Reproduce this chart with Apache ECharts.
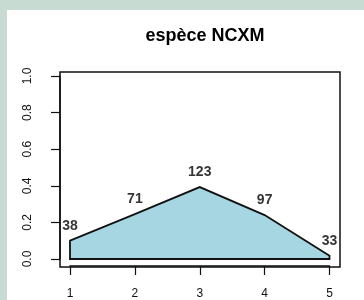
<!DOCTYPE html>
<html>
<head>
<meta charset="utf-8">
<script src="https://cdn.jsdelivr.net/npm/echarts@6/dist/echarts.min.js"></script>
<style>
  html, body { margin: 0; padding: 0; background: #fff; overflow: hidden; }
  #frame { position: absolute; left: 0; top: 0; width: 364px; height: 300px; box-sizing: border-box;
           border-left: 7px solid #c7dbd3; border-top: 10px solid #c7dbd3; background: #fff; }
  #main { position: absolute; left: 0; top: 0; width: 364px; height: 300px; }
</style>
</head>
<body>
<div id="frame"></div>
<div id="main"></div>
<script>
// données de l'espèce
const positions = [1, 2, 3, 4, 5];
const proportions = [0.10, 0.245, 0.393, 0.24, 0.018];
const effectifs = [38, 71, 123, 97, 33];
const yTicks = [0, 0.2, 0.4, 0.6, 0.8, 1.0];

const myChart = echarts.init(document.getElementById('main'));

const pts = positions.map((x, i) => [x, proportions[i], effectifs[i]]);

myChart.setOption({
    animation: false,
    title: {
        text: 'espèce NCXM',
        left: 200,
        top: 22,
        textAlign: 'center',
        textStyle: { fontFamily: 'Liberation Sans', fontWeight: 'bold', fontSize: 18, color: '#000' }
    },
    grid: [
        // zone des données (1..5, 0..1)
        { left: 70, right: 34.5, top: 76, bottom: 40 },
        // cadre R
        { left: 60, right: 24, top: 72, bottom: 33, show: true, borderColor: '#111', borderWidth: 1.5, backgroundColor: 'transparent' }
    ],
    xAxis: [{
        type: 'value', gridIndex: 0, min: 1, max: 5, interval: 1, offset: 7,
        axisLine: { show: true, onZero: false, lineStyle: { color: '#111', width: 1.5 } },
        axisTick: { show: true, length: 9, lineStyle: { color: '#111', width: 1.2 } },
        axisLabel: { margin: 22, fontFamily: 'Liberation Sans', fontSize: 12, color: '#111' },
        splitLine: { show: false }
    }, {
        type: 'value', gridIndex: 1, show: false, min: 0, max: 1
    }],
    yAxis: [{
        type: 'value', gridIndex: 0, min: 0, max: 1, interval: 0.2, offset: 10,
        axisLine: { show: true, onZero: false, lineStyle: { color: '#111', width: 1.5 } },
        axisTick: { show: true, length: 9, lineStyle: { color: '#111', width: 1.2 } },
        axisLabel: {
            rotate: 90, margin: 26, fontFamily: 'Liberation Sans', fontSize: 12, color: '#111',
            formatter: v => yTicks.includes(+v.toFixed(1)) ? v.toFixed(1) : ''
        },
        splitLine: { show: false }
    }, {
        type: 'value', gridIndex: 1, show: false, min: 0, max: 1
    }],
    series: [
        {
            type: 'custom',
            xAxisIndex: 0, yAxisIndex: 0,
            data: pts,
            renderItem: function (params, api) {
                if (params.dataIndex !== 0) return;
                const poly = [api.coord([positions[0], 0])];
                positions.forEach((x, i) => poly.push(api.coord([x, proportions[i]])));
                poly.push(api.coord([positions[positions.length - 1], 0]));
                return {
                    type: 'polygon',
                    shape: { points: poly },
                    style: { fill: '#a6d6e2', stroke: '#111', lineWidth: 1.8 }
                };
            }
        },
        {
            type: 'scatter',
            xAxisIndex: 0, yAxisIndex: 0,
            data: pts,
            symbolSize: 0,
            label: {
                show: true, position: 'top', distance: 8,
                formatter: p => String(p.data[2]),
                fontFamily: 'Liberation Sans', fontWeight: 'bold', fontSize: 14, color: '#000'
            }
        }
    ]
});
</script>
</body>
</html>
